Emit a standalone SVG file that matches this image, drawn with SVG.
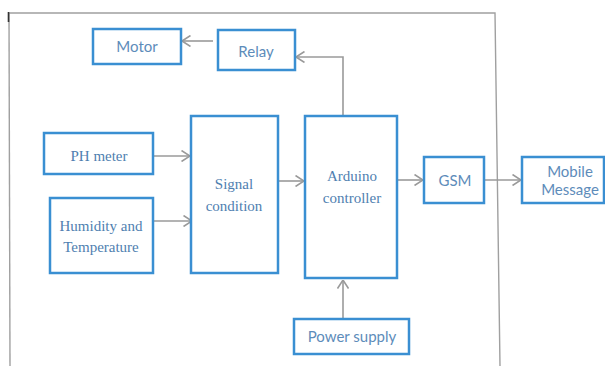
<svg xmlns="http://www.w3.org/2000/svg" width="605" height="366" viewBox="0 0 605 366">
<style>
.box{fill:#fff;stroke:#3a8fd2;stroke-width:2.5}
.sans{font-family:Lato,"Liberation Sans",sans-serif;font-size:15px;fill:#5d8cba;text-anchor:middle}
.serif{font-family:"Liberation Serif","Times New Roman",serif;font-size:15px;fill:#4f80b0;text-anchor:middle}
.con{fill:none;stroke:#9a9a9a;stroke-width:1.6}
.frame{fill:none;stroke:#a0a0a0;stroke-width:1.4}
</style>
<defs>
<marker id="ah" viewBox="0 0 10 12" refX="9.5" refY="6" markerWidth="10" markerHeight="12" markerUnits="userSpaceOnUse" orient="auto">
<path d="M1,0.5 L9.5,6 L1,11.5" fill="none" stroke="#9a9a9a" stroke-width="1.6"/>
</marker>
</defs>
<rect width="605" height="366" fill="#fff"/>
<g id="frame">
<path class="frame" d="M8,13 L495,13 L500,366"/>
<path class="frame" d="M9,13 L10,366"/>
<path d="M8.5,12 L8.5,22" stroke="#333" stroke-width="1.6"/>
</g>
<g id="connectors">
<path class="con" d="M213,41 L182,41" marker-end="url(#ah)"/>
<path class="con" d="M343,115 L343,57 L296,57" marker-end="url(#ah)"/>
<path class="con" d="M152,156 L190,156" marker-end="url(#ah)"/>
<path class="con" d="M154,221 L192,221" marker-end="url(#ah)"/>
<path class="con" d="M277,181 L304,181" marker-end="url(#ah)"/>
<path class="con" d="M398,180 L423,180" marker-end="url(#ah)"/>
<path class="con" d="M485,180 L521,180" marker-end="url(#ah)"/>
<path class="con" d="M343,318 L343,280" marker-end="url(#ah)"/>
</g>
<g id="motor">
<rect class="box" x="93" y="29" width="88" height="35"/>
<text class="sans" x="137" y="52">Motor</text>
</g>
<g id="relay">
<rect class="box" x="218" y="30" width="77" height="40"/>
<text class="sans" x="256" y="57">Relay</text>
</g>
<g id="ph-meter">
<rect class="box" x="44" y="133" width="109" height="41"/>
<text class="serif" x="99" y="161">PH meter</text>
</g>
<g id="humidity">
<rect class="box" x="50" y="198" width="103" height="75"/>
<text class="serif" x="101" y="231">Humidity and</text>
<text class="serif" x="101" y="252">Temperature</text>
</g>
<g id="signal-condition">
<rect class="box" x="191" y="116" width="87" height="157"/>
<text class="serif" x="234" y="189">Signal</text>
<text class="serif" x="234" y="211">condition</text>
</g>
<g id="arduino">
<rect class="box" x="305" y="116" width="92" height="162"/>
<text class="serif" x="352" y="181">Arduino</text>
<text class="serif" x="352" y="203">controller</text>
</g>
<g id="gsm">
<rect class="box" x="424" y="157" width="60" height="46"/>
<text class="sans" x="455" y="186">GSM</text>
</g>
<g id="mobile-message">
<rect class="box" x="522" y="157" width="82" height="46"/>
<text class="sans" x="570" y="177">Mobile</text>
<text class="sans" x="570" y="195">Message</text>
</g>
<g id="power-supply">
<rect class="box" x="294" y="319" width="115" height="35"/>
<text class="sans" x="352" y="342">Power supply</text>
</g>
</svg>
